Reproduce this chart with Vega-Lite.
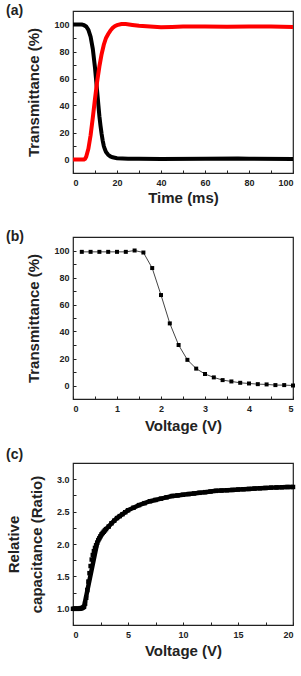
{
  "$schema": "https://vega.github.io/schema/vega-lite/v6.json",
  "background": "white",
  "autosize": {"type": "none"},
  "padding": {"left": 73, "top": 11, "right": 228, "bottom": 665},
  "spacing": 64,
  "bounds": "flush",
  "datasets": {
    "response": [
      {"t": 0, "T": 100, "s": "off"}, {"t": 2, "T": 100, "s": "off"}, {"t": 4, "T": 100, "s": "off"},
      {"t": 5, "T": 99.5, "s": "off"}, {"t": 6, "T": 98.5, "s": "off"}, {"t": 7, "T": 96, "s": "off"},
      {"t": 8, "T": 91, "s": "off"}, {"t": 9, "T": 82, "s": "off"}, {"t": 10, "T": 68, "s": "off"},
      {"t": 10.5, "T": 59, "s": "off"}, {"t": 11, "T": 50, "s": "off"}, {"t": 11.5, "T": 41, "s": "off"},
      {"t": 12, "T": 32, "s": "off"}, {"t": 12.5, "T": 25, "s": "off"}, {"t": 13, "T": 19, "s": "off"},
      {"t": 13.5, "T": 14, "s": "off"}, {"t": 14, "T": 10, "s": "off"}, {"t": 14.5, "T": 7.5, "s": "off"},
      {"t": 15, "T": 5.5, "s": "off"}, {"t": 16, "T": 3.5, "s": "off"}, {"t": 17, "T": 2.3, "s": "off"},
      {"t": 18, "T": 1.6, "s": "off"}, {"t": 20, "T": 1.0, "s": "off"}, {"t": 25, "T": 0.6, "s": "off"},
      {"t": 30, "T": 0.5, "s": "off"}, {"t": 40, "T": 0.4, "s": "off"}, {"t": 60, "T": 0.5, "s": "off"},
      {"t": 75, "T": 0.8, "s": "off"}, {"t": 80, "T": 0.5, "s": "off"}, {"t": 100, "T": 0.4, "s": "off"},
      {"t": 0, "T": 0, "s": "on"}, {"t": 3, "T": 0, "s": "on"}, {"t": 5, "T": 0, "s": "on"},
      {"t": 5.5, "T": 0.5, "s": "on"}, {"t": 6, "T": 2, "s": "on"}, {"t": 7, "T": 8, "s": "on"},
      {"t": 8, "T": 18, "s": "on"}, {"t": 9, "T": 31, "s": "on"}, {"t": 10, "T": 45, "s": "on"},
      {"t": 11, "T": 58, "s": "on"}, {"t": 12, "T": 69, "s": "on"}, {"t": 13, "T": 78, "s": "on"},
      {"t": 14, "T": 85, "s": "on"}, {"t": 15, "T": 90, "s": "on"}, {"t": 16, "T": 93, "s": "on"},
      {"t": 17, "T": 95.5, "s": "on"}, {"t": 18, "T": 97.5, "s": "on"}, {"t": 19, "T": 98.8, "s": "on"},
      {"t": 20, "T": 99.5, "s": "on"}, {"t": 22, "T": 100.3, "s": "on"}, {"t": 24, "T": 100.3, "s": "on"},
      {"t": 27, "T": 99.6, "s": "on"}, {"t": 30, "T": 99, "s": "on"}, {"t": 35, "T": 98.5, "s": "on"},
      {"t": 40, "T": 98, "s": "on"}, {"t": 45, "T": 98.2, "s": "on"}, {"t": 50, "T": 98.5, "s": "on"},
      {"t": 60, "T": 98.6, "s": "on"}, {"t": 70, "T": 98.3, "s": "on"}, {"t": 80, "T": 98.6, "s": "on"},
      {"t": 90, "T": 98.5, "s": "on"}, {"t": 100, "T": 98.2, "s": "on"}
    ],
    "vt": [
      {"V": 0.2, "T": 99}, {"V": 0.4, "T": 99}, {"V": 0.6, "T": 99}, {"V": 0.8, "T": 99},
      {"V": 1.0, "T": 99}, {"V": 1.2, "T": 99}, {"V": 1.4, "T": 100}, {"V": 1.6, "T": 98.5},
      {"V": 1.8, "T": 87}, {"V": 2.0, "T": 67}, {"V": 2.2, "T": 46}, {"V": 2.4, "T": 30},
      {"V": 2.6, "T": 19}, {"V": 2.8, "T": 12.5}, {"V": 3.0, "T": 8.5}, {"V": 3.2, "T": 6},
      {"V": 3.4, "T": 4}, {"V": 3.6, "T": 3}, {"V": 3.8, "T": 2}, {"V": 4.0, "T": 1.5},
      {"V": 4.2, "T": 1}, {"V": 4.4, "T": 0.8}, {"V": 4.6, "T": 0.3}, {"V": 4.8, "T": 0.3},
      {"V": 5.0, "T": 0}
    ],
    "cv": [
      {"V": 0.0, "C": 1.0}, {"V": 0.1, "C": 1.0}, {"V": 0.2, "C": 1.0}, {"V": 0.3, "C": 1.0},
      {"V": 0.4, "C": 1.0}, {"V": 0.5, "C": 1.0}, {"V": 0.6, "C": 1.0}, {"V": 0.7, "C": 1.01},
      {"V": 0.8, "C": 1.01}, {"V": 0.9, "C": 1.02}, {"V": 1.0, "C": 1.03}, {"V": 1.1, "C": 1.08},
      {"V": 1.2, "C": 1.17}, {"V": 1.3, "C": 1.29}, {"V": 1.4, "C": 1.42}, {"V": 1.5, "C": 1.55},
      {"V": 1.6, "C": 1.66}, {"V": 1.7, "C": 1.76}, {"V": 1.8, "C": 1.83}, {"V": 1.9, "C": 1.89},
      {"V": 2.0, "C": 1.94}, {"V": 2.1, "C": 1.98}, {"V": 2.2, "C": 2.02}, {"V": 2.3, "C": 2.06},
      {"V": 2.4, "C": 2.09}, {"V": 2.5, "C": 2.12}, {"V": 2.6, "C": 2.15}, {"V": 2.7, "C": 2.17},
      {"V": 2.8, "C": 2.19}, {"V": 2.9, "C": 2.21}, {"V": 3.0, "C": 2.23}, {"V": 3.25, "C": 2.27},
      {"V": 3.5, "C": 2.32}, {"V": 3.75, "C": 2.36}, {"V": 4.0, "C": 2.4}, {"V": 4.25, "C": 2.43},
      {"V": 4.5, "C": 2.46}, {"V": 4.75, "C": 2.49}, {"V": 5.0, "C": 2.52}, {"V": 5.5, "C": 2.56},
      {"V": 6.0, "C": 2.6}, {"V": 6.5, "C": 2.63}, {"V": 7.0, "C": 2.66}, {"V": 7.5, "C": 2.68},
      {"V": 8.0, "C": 2.7}, {"V": 8.5, "C": 2.72}, {"V": 9.0, "C": 2.74}, {"V": 9.5, "C": 2.75},
      {"V": 10.0, "C": 2.76}, {"V": 10.5, "C": 2.77}, {"V": 11.0, "C": 2.78}, {"V": 11.5, "C": 2.79},
      {"V": 12.0, "C": 2.8}, {"V": 12.5, "C": 2.81}, {"V": 13.0, "C": 2.82}, {"V": 13.5, "C": 2.825},
      {"V": 14.0, "C": 2.83}, {"V": 14.5, "C": 2.835}, {"V": 15.0, "C": 2.84}, {"V": 15.5, "C": 2.845},
      {"V": 16.0, "C": 2.85}, {"V": 16.5, "C": 2.855}, {"V": 17.0, "C": 2.86}, {"V": 17.5, "C": 2.865},
      {"V": 18.0, "C": 2.87}, {"V": 18.5, "C": 2.873}, {"V": 19.0, "C": 2.876}, {"V": 19.5, "C": 2.879},
      {"V": 20.0, "C": 2.88}
    ]
  },
  "config": {
    "font": "Liberation Sans",
    "view": {"stroke": "#222", "strokeWidth": 1.2},
    "axis": {
      "domain": false,
      "grid": false,
      "ticks": true,
      "tickSize": -3,
      "tickColor": "#222",
      "tickWidth": 1,
      "labelFont": "Liberation Sans",
      "labelFontWeight": "bold",
      "labelFontSize": 9,
      "labelColor": "#222",
      "titleFont": "Liberation Sans",
      "titleFontWeight": "bold",
      "titleFontSize": 15,
      "titleColor": "#222"
    },
    "axisLeft": {"labelPadding": 7, "titlePadding": 12},
    "axisBottom": {"labelPadding": 8, "titlePadding": 3},
    "title": {
      "font": "Liberation Sans",
      "fontWeight": "bold",
      "fontSize": 14,
      "color": "#222",
      "anchor": "start",
      "frame": "group",
      "offset": 0,
      "baseline": "middle",
      "dx": -67,
      "dy": 11
    }
  },
  "vconcat": [
    {
      "title": "(a)",
      "width": 220,
      "height": 162,
      "data": {"name": "response"},
      "mark": {"type": "line", "strokeWidth": 4, "clip": true},
      "encoding": {
        "x": {
          "field": "t", "type": "quantitative",
          "scale": {"domain": [0, 100], "nice": false, "zero": false},
          "axis": {"title": "Time (ms)", "values": [0, 10, 20, 30, 40, 50, 60, 70, 80, 90, 100],
                   "labelExpr": "datum.value % 20 === 0 ? datum.label : ''"}
        },
        "y": {
          "field": "T", "type": "quantitative",
          "scale": {"domain": [-10, 110], "nice": false, "zero": false},
          "axis": {"title": "Transmittance (%)", "values": [0, 10, 20, 30, 40, 50, 60, 70, 80, 90, 100],
                   "labelExpr": "datum.value % 20 === 0 ? datum.label : ''"}
        },
        "color": {
          "field": "s", "type": "nominal", "legend": null,
          "scale": {"domain": ["off", "on"], "range": ["#000000", "#ff0000"]}
        }
      }
    },
    {
      "title": "(b)",
      "width": 220,
      "height": 162,
      "data": {"name": "vt"},
      "encoding": {
        "x": {
          "field": "V", "type": "quantitative",
          "scale": {"domain": [0, 5], "nice": false, "zero": false},
          "axis": {"title": "Voltage (V)", "titlePadding": 5, "values": [0, 0.5, 1, 1.5, 2, 2.5, 3, 3.5, 4, 4.5, 5],
                   "labelExpr": "datum.value % 1 === 0 ? format(datum.value, 'd') : ''"}
        },
        "y": {
          "field": "T", "type": "quantitative",
          "scale": {"domain": [-10, 110], "nice": false, "zero": false},
          "axis": {"title": "Transmittance (%)", "values": [0, 10, 20, 30, 40, 50, 60, 70, 80, 90, 100],
                   "labelExpr": "datum.value % 20 === 0 ? datum.label : ''"}
        }
      },
      "layer": [
        {"mark": {"type": "line", "color": "#444", "strokeWidth": 1}},
        {"mark": {"type": "point", "shape": "square", "filled": true, "color": "#000", "opacity": 1, "size": 16}}
      ]
    },
    {
      "title": {"text": "(c)", "dy": 3},
      "width": 220,
      "height": 162,
      "data": {"name": "cv"},
      "encoding": {
        "x": {
          "field": "V", "type": "quantitative",
          "scale": {"domain": [0, 20], "nice": false, "zero": false},
          "axis": {"title": "Voltage (V)", "titlePadding": 4, "values": [0, 2.5, 5, 7.5, 10, 12.5, 15, 17.5, 20],
                   "labelExpr": "datum.value % 5 === 0 ? format(datum.value, 'd') : ''"}
        },
        "y": {
          "field": "C", "type": "quantitative",
          "scale": {"domain": [0.75, 3.25], "nice": false, "zero": false},
          "axis": {"title": ["Relative", "capacitance (Ratio)"], "titleLineHeight": 23,
                   "values": [1, 1.25, 1.5, 1.75, 2, 2.25, 2.5, 2.75, 3],
                   "labelExpr": "datum.value % 0.5 === 0 ? format(datum.value, '.1f') : ''"}
        }
      },
      "layer": [
        {
          "transform": [{"filter": "datum.V <= 1.0 || datum.V >= 2.2"}],
          "mark": {"type": "line", "color": "#000", "strokeWidth": 4.5}
        },
        {"mark": {"type": "point", "shape": "square", "filled": true, "color": "#000", "opacity": 1, "size": 20}}
      ]
    }
  ]
}
